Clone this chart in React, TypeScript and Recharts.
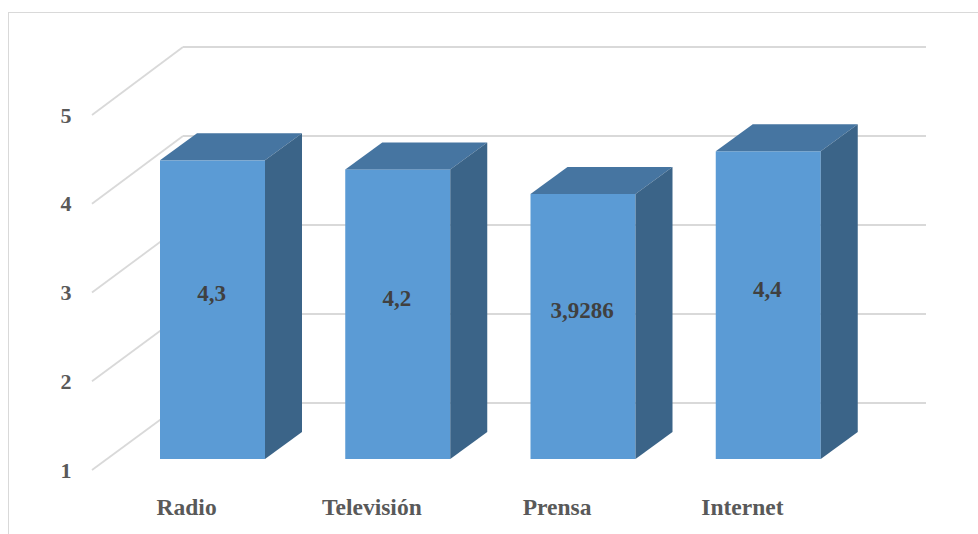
import React from 'react';
import { BarChart, Bar, XAxis, YAxis, CartesianGrid, LabelList } from 'recharts';

const categories = ['Radio', 'Televisión', 'Prensa', 'Internet'];
const values = [4.3, 4.2, 3.9286, 4.4];
const yTicks = [1, 2, 3, 4, 5];

const data = categories.map((name, i) => ({ name, value: values[i] }));

const FONT = '"Liberation Serif", "Times New Roman", serif';
const BAR_BOTTOM = 459;
const PLOT_H = 362;

// bar depth (oblique projection)
const DX = 37;
const DY = 27;

// offsets from the bar plane to the front / back walls, slightly perspective
const frontOff = (y: number) => 11 + ((BAR_BOTTOM - y) / PLOT_H) * 7;
const backOff = (y: number) => -56 + ((BAR_BOTTOM - y) / PLOT_H) * 6;

const GridLine = (props: any) => {
  const { y1 } = props;
  const fy = y1 + frontOff(y1);
  const by = y1 + backOff(y1);
  return (
    <g>
      <line x1={92} y1={fy} x2={183} y2={by} stroke="#d9d9d9" strokeWidth={1.8} />
      <line x1={183} y1={by} x2={926} y2={by} stroke="#d9d9d9" strokeWidth={1.8} />
    </g>
  );
};

const Box = (props: any) => {
  const { x, y, width, height } = props;
  if (height == null) return null;
  const top = `${x},${y} ${x + DX},${y - DY} ${x + width + DX},${y - DY} ${x + width},${y}`;
  const side = `${x + width},${y} ${x + width + DX},${y - DY} ${x + width + DX},${y + height - DY} ${x + width},${y + height}`;
  return (
    <g>
      <rect x={x} y={y} width={width} height={height} fill="#5b9bd5" />
      <polygon points={top} fill="#4675a1" />
      <polygon points={side} fill="#3b6488" />
    </g>
  );
};

const YTick = (props: any) => {
  const { y, payload } = props;
  return (
    <text
      x={66}
      y={y + frontOff(y)}
      textAnchor="middle"
      dominantBaseline="central"
      fontFamily={FONT}
      fontWeight="bold"
      fontSize={22}
      fill="#595959"
    >
      {payload.value}
    </text>
  );
};

const XTick = (props: any) => {
  const { x, payload } = props;
  return (
    <text
      x={x - 26}
      y={507}
      textAnchor="middle"
      dominantBaseline="central"
      fontFamily={FONT}
      fontWeight="bold"
      fontSize={23.5}
      fill="#595959"
    >
      {payload.value}
    </text>
  );
};

const ValueLabel = (props: any) => {
  const { x, y, width, height, value } = props;
  return (
    <text
      x={x + width / 2 - 1}
      y={y + height / 2 - 16}
      textAnchor="middle"
      dominantBaseline="central"
      fontFamily={FONT}
      fontWeight="bold"
      fontSize={23}
      fill="#404040"
    >
      {String(value).replace('.', ',')}
    </text>
  );
};

export default function App() {
  return (
    <div style={{ position: 'absolute', left: 0, top: 0, width: 978, height: 534, overflow: 'hidden', background: '#fff' }}>
      <div
        style={{
          position: 'absolute',
          left: 8,
          top: 12,
          width: 1000,
          height: 600,
          border: '1.5px solid #d9d9d9',
        }}
      />
      <div style={{ position: 'absolute', left: 0, top: 0 }}>
        <BarChart
          width={978}
          height={534}
          data={data}
          margin={{ top: 97, right: 117, bottom: 35, left: 60 }}
        >
          <CartesianGrid vertical={false} horizontal={(p: any) => <GridLine key={p.key} {...p} />} />
          <XAxis
            dataKey="name"
            height={40}
            axisLine={false}
            tickLine={false}
            tick={<XTick />}
            interval={0}
          />
          <YAxis
            width={60}
            domain={[1, 5]}
            ticks={yTicks}
            axisLine={false}
            tickLine={false}
            tick={<YTick />}
          />
          <Bar dataKey="value" barSize={105} shape={<Box />} isAnimationActive={false}>
            <LabelList dataKey="value" content={<ValueLabel />} />
          </Bar>
        </BarChart>
      </div>
    </div>
  );
}
